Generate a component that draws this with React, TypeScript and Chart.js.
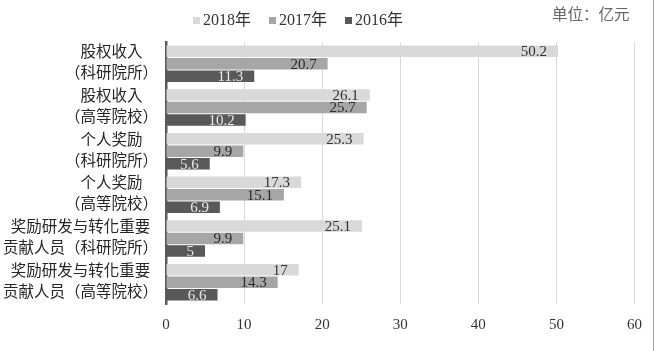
import React, { useEffect, useRef } from "react";
import { Chart, registerables } from "chart.js";

Chart.register(...registerables);

const categories: string[][] = [
  ["股权收入", "（科研院所）"],
  ["股权收入", "（高等院校）"],
  ["个人奖励", "（科研院所）"],
  ["个人奖励", "（高等院校）"],
  ["奖励研发与转化重要", "贡献人员（科研院所）"],
  ["奖励研发与转化重要", "贡献人员（高等院校）"],
];
const seriesNames = ["2018年", "2017年", "2016年"];
const values2018 = [50.2, 26.1, 25.3, 17.3, 25.1, 17];
const values2017 = [20.7, 25.7, 9.9, 15.1, 9.9, 14.3];
const values2016 = [11.3, 10.2, 5.6, 6.9, 5, 6.6];
const seriesColors = ["#d9d9d9", "#a6a6a6", "#595959"];
const labelColors = ["#333333", "#2a2a2a", "#e8e8e8"];
const xTicks = [0, 10, 20, 30, 40, 50, 60];
const unitText = "单位：亿元";

const SERIF = '"Liberation Serif", "Noto Sans CJK SC", serif';
const CAT_FONT = '"Liberation Serif", "Noto Sans CJK TC", serif';

const dataLabelPlugin = {
  id: "dataLabels",
  afterDatasetsDraw(chart: any) {
    const ctx = chart.ctx;
    ctx.save();
    ctx.font = `15px ${SERIF}`;
    ctx.textAlign = "right";
    ctx.textBaseline = "middle";
    chart.data.datasets.forEach((ds: any, di: number) => {
      const meta = chart.getDatasetMeta(di);
      meta.data.forEach((el: any, i: number) => {
        const v = ds.data[i];
        ctx.fillStyle = labelColors[di];
        ctx.fillText(String(v), el.x - 11, el.y + 1);
      });
    });
    ctx.restore();
  },
};

// Category labels: each two-line block is right-aligned to the axis, lines centred within it.
const categoryLabelPlugin = {
  id: "categoryLabels",
  afterDraw(chart: any) {
    const ctx = chart.ctx;
    const yScale = chart.scales.y;
    const right = chart.chartArea.left - 8;
    const lineH = 21;
    ctx.save();
    ctx.font = `15.5px ${CAT_FONT}`;
    ctx.fillStyle = "#262626";
    ctx.textAlign = "center";
    ctx.textBaseline = "middle";
    (chart.data.labels as string[][]).forEach((lines, i) => {
      const cy = yScale.getPixelForValue(i);
      const w = Math.max(...lines.map((l) => ctx.measureText(l).width));
      const cx = right - w / 2;
      lines.forEach((l, k) => {
        ctx.fillText(l, cx, cy + (k - (lines.length - 1) / 2) * lineH);
      });
    });
    ctx.restore();
  },
};

export default function App() {
  const ref = useRef<HTMLCanvasElement | null>(null);

  useEffect(() => {
    if (!ref.current) return;
    const chart = new Chart(ref.current, {
      type: "bar",
      data: {
        labels: categories,
        datasets: [values2018, values2017, values2016].map((d, i) => ({
          label: seriesNames[i],
          data: d,
          backgroundColor: seriesColors[i],
          borderWidth: 0,
          barPercentage: 0.92,
          categoryPercentage: 0.86,
        })),
      },
      options: {
        indexAxis: "y",
        animation: false,
        responsive: false,
        maintainAspectRatio: false,
        layout: { padding: { top: 42, bottom: 5, left: 0, right: 19 } },
        plugins: {
          legend: { display: false },
          tooltip: { enabled: false },
        },
        scales: {
          x: {
            min: 0,
            max: 60,
            afterBuildTicks: (scale: any) => {
              scale.ticks = xTicks.map((v) => ({ value: v }));
            },
            grid: { color: "#d9d9d9", lineWidth: 1, drawTicks: false },
            border: { display: false },
            ticks: {
              padding: 12,
              color: "#333333",
              font: { family: SERIF, size: 15, lineHeight: 1.2 },
            },
          },
          y: {
            afterFit: (scale: any) => {
              scale.width = 166;
              scale.paddingTop = 0;
              scale.paddingBottom = 0;
            },
            grid: { display: false, drawTicks: false },
            border: { display: true, color: "#595959", width: 2.5 },
            ticks: { display: false, autoSkip: false },
          },
        },
      },
      plugins: [dataLabelPlugin, categoryLabelPlugin],
    } as any);
    return () => chart.destroy();
  }, []);

  return (
    <div
      style={{
        position: "fixed",
        left: 0,
        top: 0,
        width: 654,
        height: 351,
        background: "#ffffff",
      }}
    >
      <canvas ref={ref} width={654} height={351} style={{ position: "absolute", left: 0, top: 0 }} />
      <div
        style={{
          position: "absolute",
          left: 193,
          top: 10,
          height: 20,
          display: "flex",
          alignItems: "center",
          gap: 18,
          fontFamily: SERIF,
          fontSize: 16,
          color: "#333333",
          lineHeight: "20px",
        }}
      >
        {seriesNames.map((n, i) => (
          <div key={n} style={{ display: "flex", alignItems: "center" }}>
            <span
              style={{
                display: "inline-block",
                width: 7,
                height: 7,
                background: seriesColors[i],
                marginRight: 3,
              }}
            />
            <span>{n}</span>
          </div>
        ))}
      </div>
      <div
        style={{
          position: "absolute",
          left: 552,
          top: 3,
          fontFamily: '"Noto Sans CJK SC", sans-serif',
          fontSize: 15.5,
          lineHeight: "20px",
          color: "#666666",
          whiteSpace: "nowrap",
        }}
      >
        {unitText}
      </div>
      <div
        style={{
          position: "absolute",
          left: 653,
          top: 0,
          width: 1,
          height: 351,
          background: "#a0a0a0",
        }}
      />
    </div>
  );
}
